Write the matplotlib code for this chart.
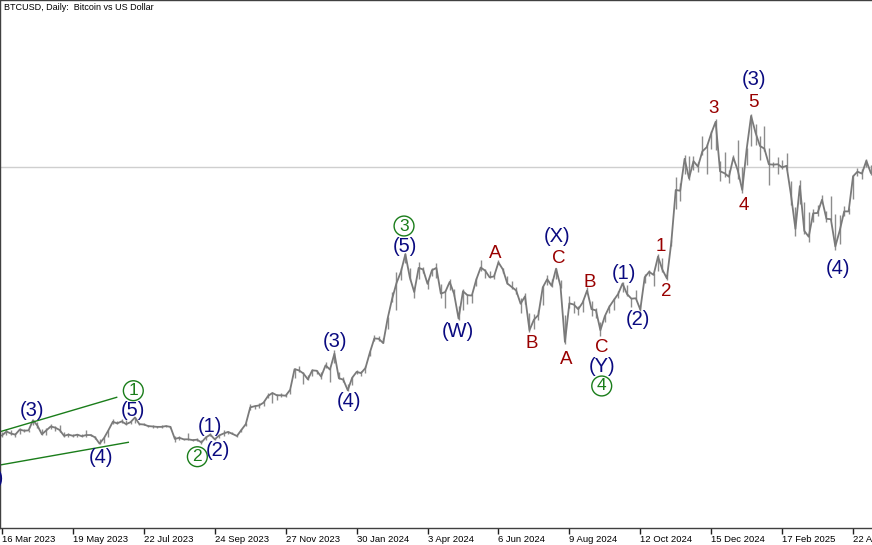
import numpy as np
import matplotlib.pyplot as plt

# BTCUSD diario, un valor cada 4 días desde el 16 Mar 2023
paso_dias = 4
precios = [
    27000, 28000, 27500, 27200, 28500, 28200, 28300, 30900, 29500, 27300,
    28300, 29300, 29000, 28400, 26900, 27200, 26900, 27200, 26800, 27100,
    27100, 26500, 24900, 26300, 28300, 30500, 30100, 30600, 29900, 30400,
    31600, 29900, 29800, 29400, 29300, 29200, 29200, 29400, 29200, 26100,
    26400, 26000, 26000, 25800, 25900, 25200, 26500, 27200, 26000, 27000,
    27500, 27900, 27400, 26850, 28400, 29900, 34200, 34500, 34700, 35400,
    37100, 37900, 37300, 37300, 37200, 38700, 44000, 43700, 42900, 41400,
    43700, 43600, 42100, 45000, 43900, 48000, 41700, 41300, 38600, 41800,
    43300, 43000, 44300, 48300, 51900, 51800, 50700, 57000, 62000, 66100,
    69000, 73500, 67600, 63800, 70000, 69600, 65900, 69400, 70000, 63400,
    63800, 66400, 63300, 57000, 64000, 63000, 62900, 67000, 70100, 69300,
    67600, 67800, 71400, 69600, 66000, 65100, 64200, 60800, 62700, 54000,
    56700, 57900, 65000, 67100, 65400, 69800, 65300, 51000, 60900, 60600,
    59400, 61100, 64200, 59400, 59100, 54000, 57600, 60000, 61700, 63300,
    66000, 63300, 62100, 62200, 59300, 67600, 69000, 68200, 72900, 69500,
    67300, 76600, 90000, 89800, 98000, 93000, 97400, 96000, 99900, 101000,
    104500, 107500, 94800, 94300, 93400, 98300, 95000, 90000, 100500, 109000,
    104700, 101300, 100600, 96600, 96500, 96600, 95800, 96200, 88700, 80000,
    91000, 79500, 78000, 84000, 84100, 87500, 82600, 82500, 75500, 79600,
    84500, 84500, 93500, 94700, 94200, 97500, 94400,
]
# mínimos y máximos de cada tramo de 4 días
minimos = [
    26500, 27200, 27000, 26600, 27300, 27900, 27900, 29800, 28900, 27100,
    27200, 28600, 28200, 27800, 26700, 26600, 26500, 26700, 26600, 26600,
    26800, 26100, 24800, 25000, 26500, 29900, 29900, 30200, 29800, 30000,
    30200, 29800, 29700, 29100, 29000, 28900, 29000, 29200, 28800, 25200,
    25900, 25900, 25800, 25600, 25600, 24900, 25800, 26900, 25900, 26400,
    26900, 27300, 27300, 26600, 28000, 29500, 33600, 33900, 34100, 34500,
    36700, 35400, 36200, 36900, 36800, 37600, 41800, 43300, 40200, 41100,
    42300, 42800, 41500, 44200, 40700, 45500, 41400, 40800, 38500, 40000,
    42700, 42300, 43000, 47500, 51300, 51200, 50600, 54400, 61200, 59300,
    66800, 71200, 66900, 62300, 67200, 68800, 64500, 67800, 67500, 62200,
    59600, 64200, 62800, 56500, 59200, 60700, 60900, 65300, 69200, 67300,
    67300, 67200, 70900, 68600, 65800, 64500, 63400, 58500, 60800, 53500,
    54300, 56600, 60600, 65500, 65100, 67200, 64800, 50500, 59600, 58500,
    57800, 58700, 63700, 57700, 57200, 52600, 56000, 58400, 59200, 62400,
    63800, 62900, 60000, 61900, 58900, 66100, 67800, 65300, 69200, 69000,
    66800, 75600, 85000, 87100, 94000, 92600, 95200, 94500, 99000, 94200,
    100600, 100200, 92300, 93300, 91800, 97800, 92700, 89300, 96400, 101200,
    101500, 97800, 100000, 91200, 95800, 94100, 95300, 95100, 86100, 78200,
    86400, 78600, 76600, 81900, 83200, 86600, 81700, 82300, 74500, 76200,
    83200, 83800, 87600, 93700, 92900, 95800, 93800,
]
maximos = [
    27800, 28600, 28300, 27700, 29000, 28700, 28500, 31000, 30500, 28700,
    28800, 30000, 29300, 29700, 27900, 27600, 27400, 27400, 27300, 28300,
    27400, 26900, 26100, 26600, 28400, 31300, 30700, 31100, 31000, 30800,
    31800, 30300, 30200, 29700, 29600, 29500, 29600, 29700, 29400, 26800,
    26800, 26200, 27600, 26100, 26400, 25900, 26800, 27500, 26400, 27200,
    28500, 28100, 28000, 27000, 28600, 30300, 35100, 34800, 35200, 35900,
    37900, 37900, 37600, 38000, 37600, 39000, 44400, 44700, 43400, 42600,
    44100, 43900, 43200, 45900, 44300, 48900, 43400, 41900, 40100, 42100,
    43800, 43500, 44900, 48600, 52800, 52500, 52000, 57500, 63800, 69000,
    70100, 73800, 69900, 64900, 71500, 70200, 66900, 69900, 71200, 65800,
    64200, 67200, 64500, 60200, 64500, 63400, 63400, 67400, 71900, 69700,
    69300, 68400, 72000, 70100, 68000, 66700, 65000, 62300, 63500, 58300,
    58200, 59300, 65400, 68300, 67100, 70000, 66800, 58000, 62700, 61500,
    60200, 61800, 65000, 61400, 59800, 56000, 58000, 60600, 62300, 64100,
    66500, 65600, 62400, 64400, 60400, 68400, 69400, 68800, 73600, 72600,
    68500, 77200, 93400, 91800, 99000, 98600, 98700, 97100, 103900, 101800,
    105200, 108300, 97400, 99700, 95000, 98900, 102700, 95800, 100800, 109500,
    107000, 103800, 106400, 100800, 97300, 98400, 97800, 99500, 92400, 85600,
    92600, 86900, 84300, 85200, 86200, 88700, 84500, 88500, 83800, 83500,
    85800, 85400, 93800, 95700, 95400, 97900, 96500,
]
dias = np.arange(len(precios)) * paso_dias

precio_actual = 95900

# Etiquetas del eje de tiempo (cada 64 días)
ticks_dias = [0, 64, 128, 192, 256, 320, 384, 448, 512, 576, 640, 704, 768]
ticks_texto = ['16 Mar 2023', '19 May 2023', '22 Jul 2023', '24 Sep 2023',
               '27 Nov 2023', '30 Jan 2024', '3 Apr 2024', '6 Jun 2024',
               '9 Aug 2024', '12 Oct 2024', '15 Dec 2024', '17 Feb 2025',
               '22 Apr 2025']

# Conteo de ondas de Elliott: (texto, día, precio, tipo)
ondas = [
    ('(2)', -9, 16070, 'azul'),
    ('(3)', 27.5, 33500, 'azul'),
    ('(4)', 89, 21460, 'azul'),
    ('(5)', 118, 33500, 'azul'),
    ('1', 118.5, 38480, 'verde'),
    ('2', 176.3, 21540, 'verde'),
    ('(1)', 187.7, 29240, 'azul'),
    ('(2)', 195.2, 23260, 'azul'),
    ('(3)', 300.5, 51060, 'azul'),
    ('(4)', 313.4, 35650, 'azul'),
    ('(5)', 363.7, 75440, 'azul'),
    ('3', 362.8, 80750, 'verde'),
    ('(W)', 411.8, 53620, 'azul'),
    ('A', 444.9, 73750, 'rojo'),
    ('B', 478, 50650, 'rojo'),
    ('C', 502, 72460, 'rojo'),
    ('(X)', 500.6, 78000, 'azul'),
    ('A', 509.6, 46360, 'rojo'),
    ('B', 530, 66200, 'rojo'),
    ('C', 541.2, 49620, 'rojo'),
    ('(Y)', 541.2, 44820, 'azul'),
    ('4', 541.2, 39690, 'verde'),
    ('(1)', 561.6, 68610, 'azul'),
    ('(2)', 574.2, 56800, 'azul'),
    ('1', 594.4, 75440, 'rojo'),
    ('2', 599.2, 63890, 'rojo'),
    ('3', 641.9, 110960, 'rojo'),
    ('4', 669, 85890, 'rojo'),
    ('5', 678, 112400, 'rojo'),
    ('(3)', 678.6, 118230, 'azul'),
    ('(4)', 754.7, 69900, 'azul'),
]

# Canal (líneas verdes) de la onda 1
canal_sup_dias = [-1.8, 103.5]
canal_sup_precios = [27955, 36784]
canal_inf_dias = [-1.8, 114]
canal_inf_precios = [19410, 25234]

colores = {'azul': '#0a0a80', 'rojo': '#990000', 'verde': '#1a7d1a'}
tamanos = {'azul': 14.5, 'rojo': 13.5, 'verde': 12.5}

fig = plt.figure(figsize=(8.72, 5.45), dpi=100)
ax = fig.add_axes([0, 17 / 545, 1, 528 / 545])

ax.axhline(precio_actual, color='#cfcfcf', lw=1)
ax.vlines(dias, minimos, maximos, color='#8c8c8c', lw=1)
ax.plot(dias, precios, color='#7a7a7a', lw=1.3)

ax.plot(canal_sup_dias, canal_sup_precios, color='#1a7d1a', lw=1)
ax.plot(canal_inf_dias, canal_inf_precios, color='#1a7d1a', lw=1)

for texto, d, p, tipo in ondas:
    c = colores[tipo]
    if tipo == 'verde':
        ax.text(d, p, texto, color=c, fontsize=tamanos[tipo], ha='center', va='center',
                family='Liberation Sans', clip_on=True,
                bbox=dict(boxstyle='circle,pad=0.14', fc='white', ec=c, lw=1))
    else:
        ax.text(d, p, texto, color=c, fontsize=tamanos[tipo], ha='center', va='center',
                family='Liberation Sans', clip_on=True)

ax.set_xlim(-1.8, 785.1)
ax.set_ylim(3240, 138760)

ax.set_xticks(ticks_dias)
ax.set_xticklabels(ticks_texto, ha='left', fontsize=6.8, family='Liberation Sans')
ax.tick_params(axis='x', direction='out', length=4, width=1, pad=1, color='#202020')
ax.set_yticks([])

for lado in ['top', 'left', 'bottom']:
    ax.spines[lado].set_color('#404040')
    ax.spines[lado].set_linewidth(1)
ax.spines['right'].set_visible(False)

ax.text(0.005, 0.995, 'BTCUSD, Daily:  Bitcoin vs US Dollar', transform=ax.transAxes,
        fontsize=6.5, family='Liberation Sans', ha='left', va='top')

fig.savefig('out.png', dpi=100)
